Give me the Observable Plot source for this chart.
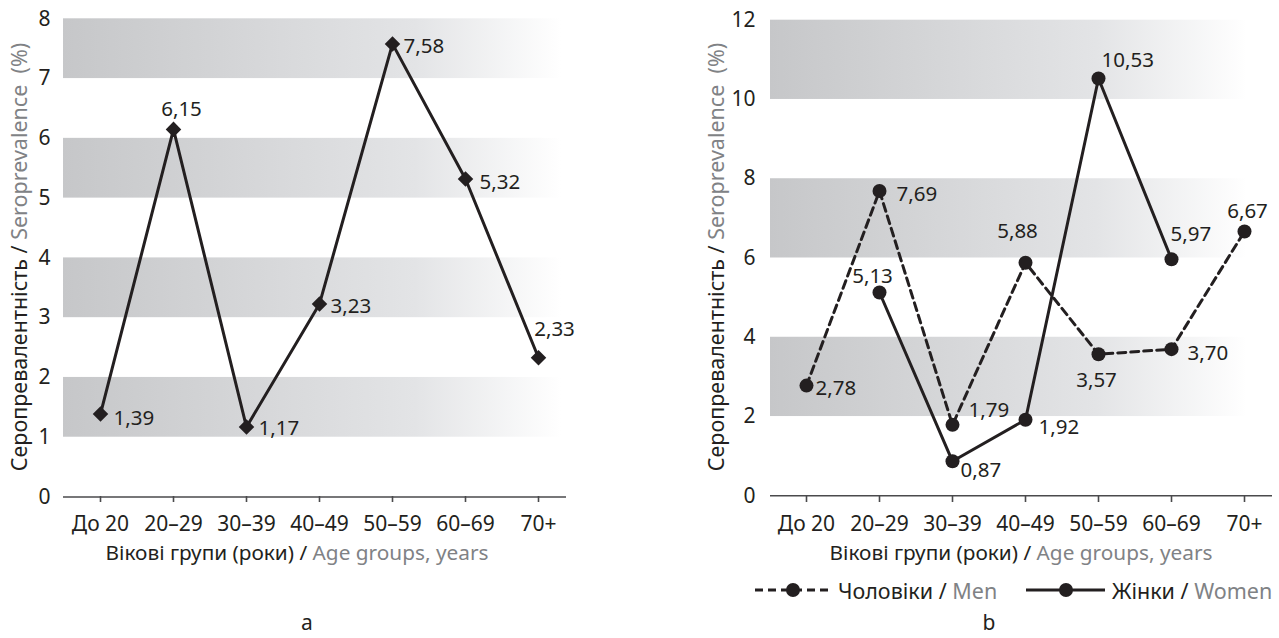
<!DOCTYPE html>
<html><head><meta charset="utf-8">
<script src="https://cdn.jsdelivr.net/npm/d3@7"></script>
<script src="https://cdn.jsdelivr.net/npm/@observablehq/plot@0.6"></script>
<style>
body{margin:0;background:#fff;font-family:"Noto Sans",sans-serif;}
#root{position:relative;width:1279px;height:638px;overflow:hidden;background:#fff;}
#root > svg{position:absolute;top:0;}
</style></head><body><div id="root"></div>
<script>
// ---- data ----
const ageGroups = ["До 20", "20–29", "30–39", "40–49", "50–59", "60–69", "70+"];
const totalValues = [1.39, 6.15, 1.17, 3.23, 7.58, 5.32, 2.33];
const menValues = [2.78, 7.69, 1.79, 5.88, 3.57, 3.70, 6.67];
const womenValues = [null, 5.13, 0.87, 1.92, 10.53, 5.97, null];
const leftBands = [[1, 2], [3, 4], [5, 6], [7, 8]];
const rightBands = [[2, 4], [6, 8], [10, 12]];
const leftYTicks = [0, 1, 2, 3, 4, 5, 6, 7, 8];
const rightYTicks = [0, 2, 4, 6, 8, 10, 12];
const yTitle = ["Серопревалентність / ", "Seroprevalence\u00a0 (%)"];
const xTitle = ["Вікові групи (роки) / ", "Age groups, years"];
const legendMen = ["Чоловіки / ", "Men"];
const legendWomen = ["Жінки / ", "Women"];
const panelLetters = ["a", "b"];

// ---- label placement (layout only) ----
const P = (anchor, dx, dy) => ({anchor, dx, dy});
const totalPlace = [P("start",13,5), P("middle",8,-20), P("start",12,1), P("start",11,3), P("start",11,3), P("start",14,3), P("middle",16,-28)];
const menPlace = [P("start",9,3), P("start",17,3), P("start",16,-14), P("middle",-8,-31), P("middle",-2,26), P("start",16,4), P("middle",3,-20)];
const womenPlace = [null, P("middle",-7,-16), P("start",8,9), P("start",13,8), P("start",3,-18), P("start",-1,-25), null];

const ink = "#231f20", grayInk = "#808285", axisInk = "#4a4a4c";
const fmt = v => v.toFixed(2).replace(".", ",");
const rows = vals => ageGroups.map((g, i) => ({group: g, value: vals[i]}));

function labels(data, place) {
  return data.map((d, i) => d.value == null ? null :
    Plot.text([d], {x: "group", y: "value", text: d => fmt(d.value),
      dx: place[i].dx, dy: place[i].dy, textAnchor: place[i].anchor, fill: ink, fontSize: 20.5}))
    .filter(Boolean);
}
function addGrad(svg, id, stops) {
  const defs = d3.select(svg).insert("defs", ":first-child");
  const g = defs.append("linearGradient").attr("id", id)
    .attr("x1", 0).attr("x2", 1).attr("y1", 0).attr("y2", 0);
  stops.forEach(([o, c]) => g.append("stop").attr("offset", o).attr("stop-color", c));
}
const baseStyle = {fontFamily: "Noto Sans", fontSize: "21px", color: ink, background: "transparent", overflow: "visible"};

const root = document.getElementById("root");

// ---- panel a ----
const totalData = rows(totalValues);
const left = Plot.plot({
  width: 640, height: 540,
  marginLeft: 63, marginRight: 74, marginTop: 18, marginBottom: 44,
  style: baseStyle,
  x: {type: "point", domain: ageGroups, range: [98, 540], padding: 0},
  y: {domain: [0, 8], range: [496.5, 18.3]},
  marks: [
    Plot.rect(leftBands, {y1: d => d[0], y2: d => d[1], fill: "url(#gradL)"}),
    Plot.ruleY([0], {stroke: axisInk, strokeWidth: 1.6}),
    Plot.axisX({tickSize: 6, tickPadding: 14, stroke: axisInk, strokeWidth: 1.6, fill: ink, fontSize: 21, label: null}),
    Plot.axisY({ticks: leftYTicks, tickSize: 0, tickPadding: 13, fill: ink, fontSize: 21, label: null}),
    Plot.line(totalData, {x: "group", y: "value", stroke: ink, strokeWidth: 3}),
    Plot.dot(totalData, {x: "group", y: "value", symbol: "diamond2", r: 7, fill: ink, stroke: "none"}),
    ...labels(totalData, totalPlace)
  ]
});
addGrad(left, "gradL", [[0, "#c6c7c9"], [0.7, "#e3e4e6"], [0.99, "#ffffff"]]);
left.style.left = "0px";
root.appendChild(left);

// ---- panel b ----
const menData = rows(menValues);
const womenData = rows(womenValues);
const right = Plot.plot({
  width: 639, height: 540,
  marginLeft: 130, marginRight: 7, marginTop: 20, marginBottom: 44,
  style: baseStyle,
  x: {type: "point", domain: ageGroups, range: [163.6, 606.4], padding: 0},
  y: {domain: [0, 12], range: [495.3, 19.7]},
  marks: [
    Plot.rect(rightBands, {y1: d => d[0], y2: d => d[1], fill: "url(#gradR)"}),
    Plot.ruleY([0], {stroke: axisInk, strokeWidth: 1.6}),
    Plot.axisX({tickSize: 6, tickPadding: 14, stroke: axisInk, strokeWidth: 1.6, fill: ink, fontSize: 21, label: null}),
    Plot.axisY({ticks: rightYTicks, tickSize: 0, tickPadding: 15, fill: ink, fontSize: 21, label: null}),
    Plot.line(menData, {x: "group", y: "value", stroke: ink, strokeWidth: 3, strokeDasharray: "8,5"}),
    Plot.line(womenData, {x: "group", y: "value", stroke: ink, strokeWidth: 3}),
    Plot.dot(menData, {x: "group", y: "value", r: 7, fill: ink, stroke: "none"}),
    Plot.dot(womenData, {x: "group", y: "value", r: 7, fill: ink, stroke: "none"}),
    ...labels(menData, menPlace),
    ...labels(womenData, womenPlace)
  ]
});
addGrad(right, "gradR", [[0, "#c6c7c9"], [0.65, "#e3e4e6"], [0.95, "#ffffff"]]);
right.style.left = "640px";
root.appendChild(right);

// ---- titles, legend, panel letters ----
const ov = d3.create("svg").attr("width", 1279).attr("height", 638)
  .style("position", "absolute").style("left", "0px").style("top", "0px")
  .style("font-family", "Noto Sans").style("font-size", "20.8px").style("pointer-events", "none");
function twoTone(g, parts) {
  g.append("tspan").attr("fill", ink).text(parts[0]);
  g.append("tspan").attr("fill", grayInk).text(parts[1]);
}
[[18, 257], [715, 257]].forEach(([x, y]) => {
  const t = ov.append("text").attr("transform", `translate(${x},${y}) rotate(-90)`)
    .attr("text-anchor", "middle").attr("dominant-baseline", "central").style("font-size", "21.5px");
  twoTone(t, yTitle);
});
[[297, 560], [1021, 560]].forEach(([x, y]) => {
  const t = ov.append("text").attr("x", x).attr("y", y).attr("text-anchor", "middle");
  twoTone(t, xTitle);
});
// legend
const ly = 590;
ov.append("line").attr("x1", 755).attr("x2", 833).attr("y1", ly).attr("y2", ly)
  .attr("stroke", ink).attr("stroke-width", 3).attr("stroke-dasharray", "8,5");
ov.append("circle").attr("cx", 793).attr("cy", ly).attr("r", 7).attr("fill", ink);
twoTone(ov.append("text").attr("x", 838).attr("y", ly).attr("dominant-baseline", "central").style("font-size", "21.5px"), legendMen);
ov.append("line").attr("x1", 1026).attr("x2", 1105).attr("y1", ly).attr("y2", ly)
  .attr("stroke", ink).attr("stroke-width", 3);
ov.append("circle").attr("cx", 1066).attr("cy", ly).attr("r", 7).attr("fill", ink);
twoTone(ov.append("text").attr("x", 1112).attr("y", ly).attr("dominant-baseline", "central").style("font-size", "21.5px"), legendWomen);
[[307, 630], [989, 630]].forEach(([x, y], i) => {
  ov.append("text").attr("x", x).attr("y", y).attr("text-anchor", "middle").attr("fill", ink)
    .style("font-size", "21px").text(panelLetters[i]);
});
root.appendChild(ov.node());
</script></body></html>
